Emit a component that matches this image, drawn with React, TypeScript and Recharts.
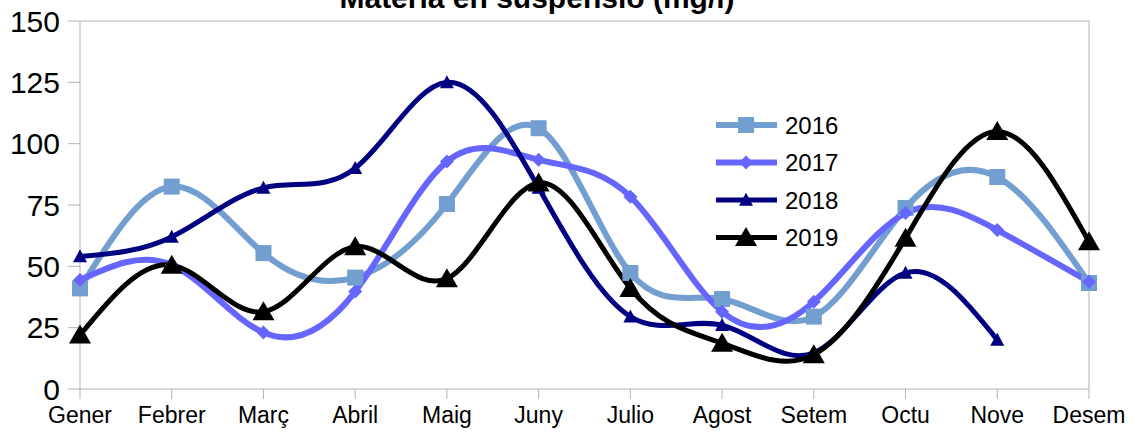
import React from 'react';
import { LineChart, Line, XAxis, YAxis, ReferenceLine } from 'recharts';

// ─── Data (mg/l per month) ───────────────────────────────────────────────────

const MONTHS = ['Gener', 'Febrer', 'Març', 'Abril', 'Maig', 'Juny', 'Julio', 'Agost', 'Setem', 'Octu', 'Nove', 'Desem'];
const Y_TICKS = [0, 25, 50, 75, 100, 125, 150];

const S2016 = [41, 82.5, 55.4, 45.4, 75.4, 106.3, 47.3, 36.7, 29.5, 73.8, 86.4, 43.2];
const S2017 = [44.4, 50.5, 23, 39.7, 92.7, 93.4, 78.4, 31.5, 35.6, 71.7, 64.8, 43.7];
const S2018 = [54, 62, 82, 90, 125, 82, 29.5, 26, 14.7, 47.3, 20, null];
const S2019 = [22, 50.5, 31.5, 58, 45, 84, 41, 18.7, 14, 61.5, 105, 60];

const data = MONTHS.map((m, i) => ({
  month: m, s2016: S2016[i], s2017: S2017[i], s2018: S2018[i], s2019: S2019[i],
}));

// ─── Style ───────────────────────────────────────────────────────────────────

const C = {
  s2016: '#729fcf',
  s2017: '#6666ff',
  s2018: '#000080',
  s2019: '#000000',
  axis:  '#b3b3b3',
};
const FONT = '"Liberation Sans", Arial, sans-serif';

// ─── Marker shapes ───────────────────────────────────────────────────────────

function square(size: number, color: string) {
  return (p: any) => {
    if (p.cx == null || p.cy == null || p.value == null) return <g key={p.key} />;
    return <rect key={p.key} x={p.cx - size / 2} y={p.cy - size / 2} width={size} height={size} fill={color} />;
  };
}

function diamond(size: number, color: string) {
  return (p: any) => {
    if (p.cx == null || p.cy == null || p.value == null) return <g key={p.key} />;
    const h = size / 2;
    return <path key={p.key} d={`M${p.cx},${p.cy - h}L${p.cx + h},${p.cy}L${p.cx},${p.cy + h}L${p.cx - h},${p.cy}Z`} fill={color} />;
  };
}

function triangle(w: number, h: number, color: string) {
  return (p: any) => {
    if (p.cx == null || p.cy == null || p.value == null) return <g key={p.key} />;
    const top = p.cy - h * 0.55;
    const bot = p.cy + h * 0.45;
    return <path key={p.key} d={`M${p.cx},${top}L${p.cx + w / 2},${bot}L${p.cx - w / 2},${bot}Z`} fill={color} />;
  };
}

const SERIES = [
  { key: 's2016', name: '2016', color: C.s2016, width: 6, dot: square(16, C.s2016) },
  { key: 's2017', name: '2017', color: C.s2017, width: 6, dot: diamond(14, C.s2017) },
  { key: 's2018', name: '2018', color: C.s2018, width: 5, dot: triangle(14, 13, C.s2018) },
  { key: 's2019', name: '2019', color: C.s2019, width: 5, dot: triangle(22, 19, C.s2019) },
];

// ─── Legend (drawn over the plot, no layout space taken) ─────────────────────

const LegendBox = () => (
  <svg width={150} height={150} style={{ position: 'absolute', left: 716, top: 110, overflow: 'visible' }}>
    {SERIES.map((s, i) => {
      const cy = 15 + i * 37.5;
      return (
        <g key={s.key}>
          <line x1={0} x2={61} y1={cy} y2={cy} stroke={s.color} strokeWidth={s.width} />
          {s.dot({ cx: 30, cy, value: 1, key: 'd' })}
          <text x={69} y={cy + 8.5} fontSize={24} fontFamily={FONT} fill="#000">{s.name}</text>
        </g>
      );
    })}
  </svg>
);

// ─── Main ────────────────────────────────────────────────────────────────────

export default function App() {
  return (
    <div style={{ position: 'absolute', left: 0, top: 0, width: 1136, height: 436, background: '#fff', overflow: 'hidden' }}>
      <LineChart width={1136} height={436} data={data} margin={{ top: 21, right: 47, left: 0, bottom: 0 }}>
        <text x={537} y={8} textAnchor="middle" fontSize={30} fontWeight="bold" fontFamily={FONT} fill="#000">
          Materia en suspensió (mg/l)
        </text>
        <XAxis
          dataKey="month"
          height={47}
          stroke={C.axis}
          tickSize={10}
          tickMargin={8}
          interval={0}
          tick={{ fontSize: 23, fill: '#000', fontFamily: FONT }}
        />
        <YAxis
          domain={[0, 150]}
          ticks={Y_TICKS}
          interval={0}
          width={80}
          stroke={C.axis}
          tickSize={12}
          tickMargin={8}
          tick={{ fontSize: 30, fill: '#000', fontFamily: FONT }}
        />
        <ReferenceLine y={150} stroke={C.axis} />
        <ReferenceLine x="Desem" stroke={C.axis} />
        {SERIES.map(s => (
          <Line
            key={s.key}
            type="natural"
            dataKey={s.key}
            name={s.name}
            stroke={s.color}
            strokeWidth={s.width}
            dot={s.dot}
            activeDot={false}
            isAnimationActive={false}
          />
        ))}
      </LineChart>
      <LegendBox />
    </div>
  );
}
